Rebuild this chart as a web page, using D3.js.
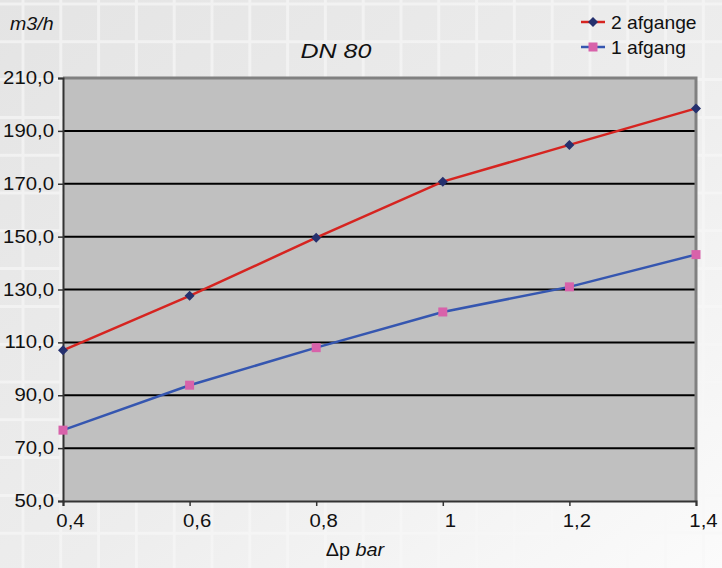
<!DOCTYPE html>
<html><head><meta charset="utf-8">
<script src="https://cdn.jsdelivr.net/npm/d3@7"></script>
<style>body{margin:0;background:#fff}svg{display:block;font-family:Arial,"Liberation Sans",sans-serif}</style>
</head><body>
<svg id="c" width="722" height="568"></svg>
<script>
const xValues = [0.4, 0.6, 0.8, 1.0, 1.2, 1.4];
const seriesNames = ["2 afgange", "1 afgang"];
const afgange2 = [107.0, 127.6, 149.6, 170.8, 184.7, 198.5];
const afgang1 = [76.8, 93.8, 108.0, 121.5, 131.0, 143.2];
const yTicks = [50, 70, 90, 110, 130, 150, 170, 190, 210];
const xTicks = [0.4, 0.6, 0.8, 1.0, 1.2, 1.4];
const title = "DN 80";
const yUnit = "m3/h";

const W = 722, H = 568;
const svg = d3.select("#c");
const SX = 1.1;
function stretch(sel, k) {
  sel.each(function () {
    const t = d3.select(this);
    const x = +t.attr("x") || 0;
    t.attr("transform", `translate(${x},0) scale(${k},1) translate(${-x},0)`);
  });
}

// background with faint tile grid
const defs = svg.append("defs");
const g1 = defs.append("linearGradient").attr("id", "bg").attr("x1", 0).attr("y1", 0).attr("x2", 1).attr("y2", 1);
g1.append("stop").attr("offset", 0).attr("stop-color", "#e4e4e4");
g1.append("stop").attr("offset", 0.55).attr("stop-color", "#ededed");
g1.append("stop").attr("offset", 1).attr("stop-color", "#fbfbfb");
svg.append("rect").attr("width", W).attr("height", H).attr("fill", "url(#bg)");
const bgg = svg.append("g").attr("stroke", "#f8f8f8").attr("stroke-width", 3).attr("opacity", 0.65);
d3.range(-1, 20).forEach(k => {
  const x = 23 + 37.8 * k;
  bgg.append("line").attr("x1", x).attr("x2", x).attr("y1", 0).attr("y2", H);
  const y = 4 + 37.8 * k;
  bgg.append("line").attr("x1", 0).attr("x2", W).attr("y1", y).attr("y2", y);
});

const L = 63, R = 696, T = 78, B = 501;
const x = d3.scaleLinear().domain([0.4, 1.4]).range([L, R]);
const y = d3.scaleLinear().domain([50, 210]).range([B, T]);

svg.append("rect").attr("x", L).attr("y", T).attr("width", R - L).attr("height", B - T).attr("fill", "#c0c0c0");

// gridlines
svg.append("g").selectAll("line").data(yTicks.filter(v => v > 50 && v < 210)).join("line")
  .attr("x1", L).attr("x2", R).attr("y1", d => y(d)).attr("y2", d => y(d))
  .attr("stroke", "#000").attr("stroke-width", 2);

// top/right border
svg.append("path").attr("d", `M${L},${T}H${R}V${B}`).attr("fill", "none").attr("stroke", "#808080").attr("stroke-width", 3);

// axes
const yAxis = svg.append("g").attr("transform", `translate(${L},0)`)
  .call(d3.axisLeft(y).tickValues(yTicks).tickSize(5).tickPadding(4).tickFormat(d => d3.format(".1f")(d).replace(".", ",")));
yAxis.select(".domain").attr("stroke", "#333").attr("stroke-width", 2);
yAxis.selectAll(".tick line").attr("stroke", "#333").attr("stroke-width", 1.5);
yAxis.selectAll("text").attr("font-size", 18.5).attr("fill", "#111").attr("dy", "0.3em").attr("x", -9);
stretch(yAxis.selectAll("text"), SX);

const xAxis = svg.append("g").attr("transform", `translate(0,${B})`)
  .call(d3.axisBottom(x).tickValues(xTicks).tickSize(5).tickFormat(d => d3.format("~g")(d).replace(".", ",")));
xAxis.select(".domain").attr("stroke", "#333").attr("stroke-width", 2);
xAxis.selectAll(".tick line").attr("stroke", "#333").attr("stroke-width", 1.5);
xAxis.selectAll("text").attr("font-size", 18.5).attr("fill", "#111").attr("x", 7).attr("y", 26).attr("dy", 0);
stretch(xAxis.selectAll("text"), SX);

// lines
const series = [
  { name: seriesNames[0], values: afgange2, line: "#d62420", marker: "#25306e", shape: "diamond" },
  { name: seriesNames[1], values: afgang1, line: "#3556b0", marker: "#d862aa", shape: "square" }
];
const lineGen = d3.line().x((d, i) => x(xValues[i])).y(d => y(d));
function drawMarker(g, cx, cy, s) {
  if (s.shape === "diamond") {
    g.append("path").attr("d", `M${cx},${cy - 5}L${cx + 5},${cy}L${cx},${cy + 5}L${cx - 5},${cy}Z`).attr("fill", s.marker);
  } else {
    g.append("rect").attr("x", cx - 4.5).attr("y", cy - 4.5).attr("width", 9).attr("height", 9).attr("fill", s.marker);
  }
}
series.forEach(s => {
  svg.append("path").datum(s.values).attr("d", lineGen).attr("fill", "none")
    .attr("stroke", s.line).attr("stroke-width", 2.5);
  const mg = svg.append("g");
  s.values.forEach((v, i) => drawMarker(mg, x(xValues[i]), y(v), s));
});

// legend
series.forEach((s, i) => {
  const ly = 22 + i * 25;
  svg.append("line").attr("x1", 581).attr("x2", 605).attr("y1", ly).attr("y2", ly).attr("stroke", s.line).attr("stroke-width", 2.5);
  drawMarker(svg.append("g"), 593, ly, s);
  const t = svg.append("text").attr("x", 611).attr("y", ly + 7).attr("font-size", 17.5).attr("fill", "#111").text(s.name);
  stretch(t, SX);
});

// titles
const tt = svg.append("text").attr("x", 336).attr("y", 58).attr("text-anchor", "middle").attr("font-size", 20.5)
  .attr("font-style", "italic").attr("fill", "#111").text(title);
stretch(tt, 1.22);
const ut = svg.append("text").attr("x", 10).attr("y", 30).attr("font-size", 17.5).attr("font-style", "italic").attr("fill", "#111").text(yUnit);
stretch(ut, 1.12);
const xt = svg.append("text").attr("x", 355).attr("y", 556).attr("text-anchor", "middle").attr("font-size", 18).attr("fill", "#111");
xt.append("tspan").text("\u0394p ");
xt.append("tspan").attr("font-style", "italic").text("bar");
stretch(xt, SX);
</script>
</body></html>
